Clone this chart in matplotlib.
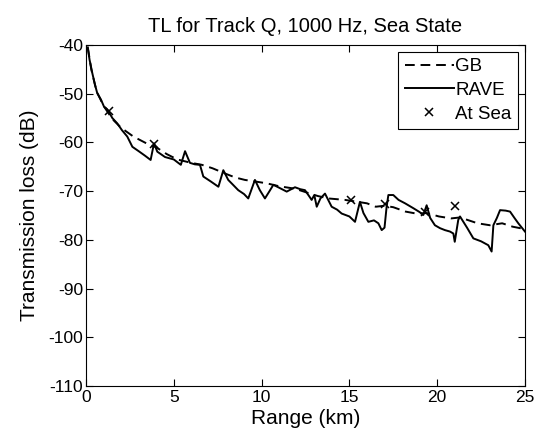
import matplotlib
matplotlib.use("Agg")
import matplotlib.pyplot as plt

# GB model (dashed)
gb_r = [0.1, 0.3, 0.6, 1.0, 1.5, 2.0, 2.7, 3.5, 4.0, 4.6, 5.2, 6.0, 6.6, 7.2, 8.0, 8.5,
        9.05, 9.6, 10.3, 11.0, 11.9, 12.5, 13.2, 13.8, 14.75, 15.3, 16.0, 16.5, 17.0,
        17.5, 18.2, 18.8, 19.4, 20.1, 20.8, 21.3, 21.8, 22.3, 23.0, 23.7, 24.3, 25.0]
gb_tl = [-40.5, -45.0, -49.5, -52.5, -55.2, -57.0, -58.8, -60.3, -61.0, -62.4, -63.5,
         -64.2, -64.6, -65.3, -66.5, -67.2, -67.7, -68.0, -68.4, -69.0, -69.5, -70.2,
         -71.0, -71.5, -71.8, -72.1, -72.5, -73.2, -73.0, -73.3, -74.2, -74.6, -74.5,
         -75.2, -75.6, -75.4, -76.0, -76.6, -77.0, -76.6, -77.3, -77.8]

# RAVE model (solid)
rave_r = [0.1, 0.2, 0.36, 0.5, 0.64, 0.85, 1.03, 1.2, 1.31, 1.5, 1.78, 2.05, 2.35, 2.64,
          3.0, 3.35, 3.68, 3.87, 4.06, 4.5, 5.0, 5.4, 5.64, 5.92, 6.2, 6.49, 6.68, 7.1,
          7.54, 7.82, 8.1, 8.4, 8.67, 9.0, 9.24, 9.62, 9.9, 10.19, 10.45, 10.67, 11.0,
          11.43, 11.9, 12.2, 12.47, 12.7, 12.85, 13.0, 13.14, 13.35, 13.61, 13.99, 14.3,
          14.56, 15.0, 15.32, 15.6, 15.8, 16.08, 16.4, 16.65, 16.84, 17.0, 17.12, 17.22,
          17.5, 17.8, 18.17, 18.64, 19.0, 19.21, 19.4, 19.6, 19.87, 20.16, 20.44, 20.73,
          20.92, 21.0, 21.2, 21.3, 21.7, 22.06, 22.5, 22.91, 23.1, 23.2, 23.4, 23.58,
          23.9, 24.15, 24.4, 24.62, 25.0]
rave_tl = [-40.5, -43.0, -45.8, -48.0, -49.9, -51.2, -52.7, -53.2, -53.8, -55.0, -56.1,
           -57.5, -58.8, -60.9, -61.8, -62.7, -63.6, -60.2, -61.9, -63.0, -63.5, -64.6,
           -61.8, -64.2, -64.5, -64.6, -67.0, -68.0, -69.1, -65.7, -67.7, -68.8, -69.8,
           -70.6, -71.5, -67.7, -69.8, -71.5, -70.0, -68.7, -69.3, -70.1, -69.2, -69.6,
           -69.8, -71.0, -71.8, -70.8, -73.2, -71.5, -70.5, -73.2, -73.8, -74.6, -75.2,
           -76.3, -72.2, -74.5, -76.3, -76.0, -76.6, -78.0, -77.5, -73.2, -70.8, -70.8,
           -71.8, -72.5, -73.5, -74.3, -74.9, -72.9, -75.5, -77.0, -77.6, -78.0, -78.3,
           -78.7, -80.4, -75.9, -75.2, -77.5, -79.7, -80.3, -81.1, -82.4, -77.0, -75.5,
           -73.9, -74.0, -74.2, -75.5, -76.6, -78.3]

# measured at sea
sea_r = [1.3, 3.9, 15.1, 17.0, 19.3, 21.0]
sea_tl = [-53.5, -60.3, -71.8, -72.6, -74.2, -73.1]

plt.rcParams['font.family'] = ['Liberation Sans', 'DejaVu Sans']
plt.rcParams['axes.unicode_minus'] = False

fig = plt.figure(figsize=(5.42, 4.36), dpi=100)
ax = fig.add_axes([0.1587, 0.1147, 0.8099, 0.7821])

ax.plot(gb_r, gb_tl, 'k--', lw=1.4, dashes=(5, 3), label='GB')
ax.plot(rave_r, rave_tl, 'k-', lw=1.4, label='RAVE')
ax.plot(sea_r, sea_tl, 'kx', ms=5.5, mew=1.1, label='At Sea')

ax.set_xlim(0, 25)
ax.set_ylim(-110, -40)
ax.set_xticks([0, 5, 10, 15, 20, 25])
ax.set_yticks(range(-110, -39, 10))
ax.tick_params(direction='in', top=True, right=True, labelsize=12.5, length=5,
               width=0.8, pad=2)
ax.tick_params(axis='x', pad=3)
for s in ax.spines.values():
    s.set_linewidth(0.8)

ax.set_xlabel('Range (km)', fontsize=15, labelpad=3)
ax.set_ylabel('Transmission loss (dB)', fontsize=15, labelpad=7)
ax.set_title('TL for Track Q, 1000 Hz, Sea State', fontsize=14.5, pad=9)

leg = ax.legend(loc='upper right', fontsize=13.5, fancybox=False, framealpha=1,
                edgecolor='black', handlelength=2.6, handletextpad=0.1,
                borderaxespad=0.35, labelspacing=0.35, borderpad=0.35)
leg.get_frame().set_linewidth(0.8)

fig.savefig('out.png', dpi=100)
